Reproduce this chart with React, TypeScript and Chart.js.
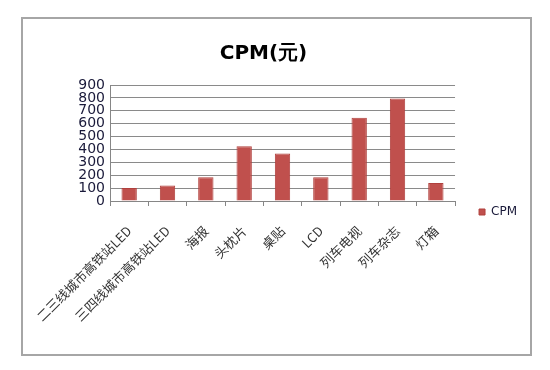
import React, { useEffect, useRef } from "react";
import { Chart, registerables } from "chart.js";

Chart.register(...registerables);

const categories = [
  "二三线城市高铁站LED",
  "三四线城市高铁站LED",
  "海报",
  "头枕片",
  "桌贴",
  "LCD",
  "列车电视",
  "列车杂志",
  "灯箱",
];
const cpmValues = [100, 120, 185, 425, 368, 185, 645, 795, 140];
const seriesName = "CPM";
const chartTitle = "CPM(元)";
const yMin = 0;
const yMax = 900;
const yStep = 100;

export default function App() {
  const canvasRef = useRef<HTMLCanvasElement | null>(null);

  useEffect(() => {
    const canvas = canvasRef.current;
    if (!canvas) return;
    const chart = new Chart(canvas, {
      type: "bar",
      data: {
        labels: categories,
        datasets: [
          {
            label: seriesName,
            data: cpmValues,
            backgroundColor: "#C0504D",
            borderColor: "#B0403D",
            borderWidth: 1,
            categoryPercentage: 1,
            barPercentage: 0.4,
          },
        ],
      },
      options: {
        animation: false,
        responsive: false,
        maintainAspectRatio: false,
        layout: { padding: { left: 0, right: 23, top: 0, bottom: 0 } },
        plugins: {
          tooltip: { enabled: false },
          title: {
            display: true,
            text: chartTitle,
            color: "#000",
            font: { family: "DejaVu Sans", size: 20, weight: "bold" },
            padding: { top: 42, bottom: 19 },
          },
          legend: {
            display: true,
            position: "right",
            align: "start",
            title: {
              display: true,
              text: " ",
              font: { size: 12 },
              padding: { top: 167.6, bottom: 0 },
            },
            labels: {
              boxWidth: 6,
              boxHeight: 6,
              padding: 24,
              color: "#1a1a3a",
              font: { family: "DejaVu Sans", size: 12 },
            },
          },
        },
        scales: {
          x: {
            afterFit: (scale: any) => {
              scale.height = 370 - 201;
            },
            grid: {
              offset: true,
              drawOnChartArea: false,
              drawTicks: true,
              tickLength: 5,
              color: "#868686",
            },
            border: { display: true, color: "#868686" },
            ticks: {
              autoSkip: false,
              minRotation: 45,
              maxRotation: 45,
              padding: 17,
              color: "#333",
              font: { family: "Noto Sans CJK SC", size: 13 },
            },
          },
          y: {
            min: yMin,
            max: yMax,
            afterFit: (scale: any) => {
              scale.width = 110;
            },
            grid: { color: "#8a8a8a", drawTicks: false },
            border: { display: true, color: "#868686" },
            ticks: {
              stepSize: yStep,
              autoSkip: false,
              padding: 5,
              color: "#1a1a3a",
              font: { family: "DejaVu Sans", size: 14 },
            },
          },
        },
      },
    });
    return () => chart.destroy();
  }, []);

  return (
    <div
      style={{
        position: "absolute",
        left: 0,
        top: 0,
        width: 550,
        height: 370,
        background: "#fff",
      }}
    >
      <div
        style={{
          position: "absolute",
          left: 21,
          top: 17,
          width: 511,
          height: 339,
          boxSizing: "border-box",
          border: "2px solid #a6a6a6",
        }}
      />
      <canvas
        ref={canvasRef}
        width={550}
        height={370}
        style={{ position: "absolute", left: 0, top: 0, width: 550, height: 370 }}
      />
    </div>
  );
}
